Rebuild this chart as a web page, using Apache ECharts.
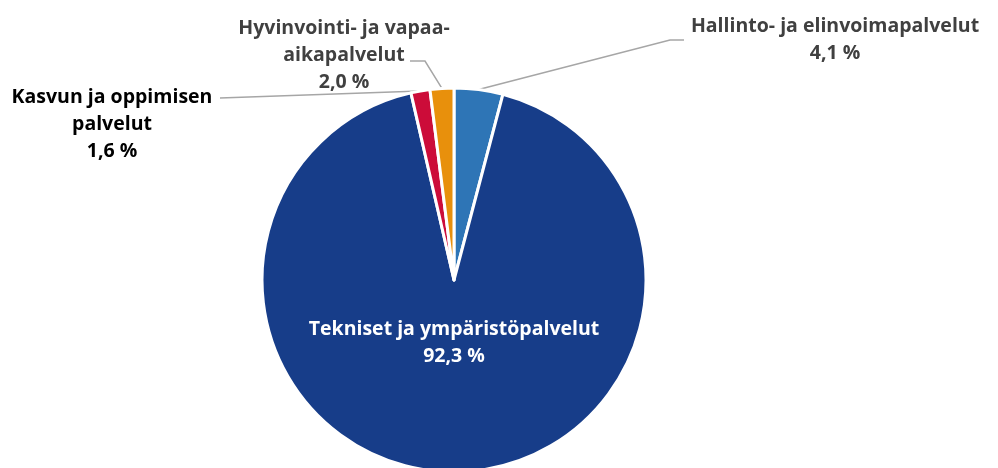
<!DOCTYPE html>
<html>
<head>
<meta charset="utf-8">
<script src="https://cdn.jsdelivr.net/npm/echarts@6/dist/echarts.min.js"></script>
<style>
  html, body { margin: 0; padding: 0; background: #fff; }
  #chart { width: 998px; height: 468px; }
</style>
</head>
<body>
<div id="chart"></div>
<script>
// osuudet (%), myötäpäivään ylhäältä alkaen
const categories = [
  'Hallinto- ja elinvoimapalvelut',
  'Tekniset ja ympäristöpalvelut',
  'Kasvun ja oppimisen\npalvelut',
  'Hyvinvointi- ja vapaa-\naikapalvelut'
]
const shares = [4.1, 92.3, 1.6, 2.0]
const colors = ['#2E75B6', '#173D89', '#CC0C39', '#E8900C']

// label positions (centre of text block) and label line bends
const labelPos = [
  { x: 835, y: 40, bend: [[670, 40], [684, 40]] },
  { x: 454, y: 343 },
  { x: 112, y: 124, bend: [[220, 98], [220, 98]] },
  { x: 344, y: 55, bend: [[425, 61], [410, 61]] }
]
const labelColors = ['#404040', '#ffffff', '#000000', '#404040']

const myChart = echarts.init(document.getElementById('chart'))

const option = {
  animation: false,
  textStyle: { fontFamily: 'Open Sans' },
  series: [
    {
      type: 'pie',
      center: [454, 280],
      radius: 192,
      startAngle: 90,
      clockwise: true,
      avoidLabelOverlap: false,
      itemStyle: { borderColor: '#fff', borderWidth: 3 },
      label: {
        show: true,
        position: 'outside',
        fontWeight: 'bold',
        fontSize: 19.5,
        lineHeight: 27,
        align: 'center',
        formatter: p => p.name + '\n' + p.value.toFixed(1).replace('.', ',') + ' %'
      },
      labelLine: {
        show: true,
        length: 10,
        length2: 10,
        lineStyle: { color: '#A6A6A6', width: 1.5 }
      },
      labelLayout: params => {
        const lp = labelPos[params.dataIndex]
        const out = { x: lp.x, y: lp.y, align: 'center', verticalAlign: 'middle' }
        if (lp.bend && params.labelLinePoints) {
          out.labelLinePoints = [params.labelLinePoints[0], lp.bend[0], lp.bend[1]]
        }
        return out
      },
      data: categories.map((name, i) => ({
        name,
        value: shares[i],
        itemStyle: { color: colors[i] },
        label: { color: labelColors[i] },
        labelLine: { show: i !== 1 }
      }))
    }
  ]
}

myChart.setOption(option)
</script>
</body>
</html>
